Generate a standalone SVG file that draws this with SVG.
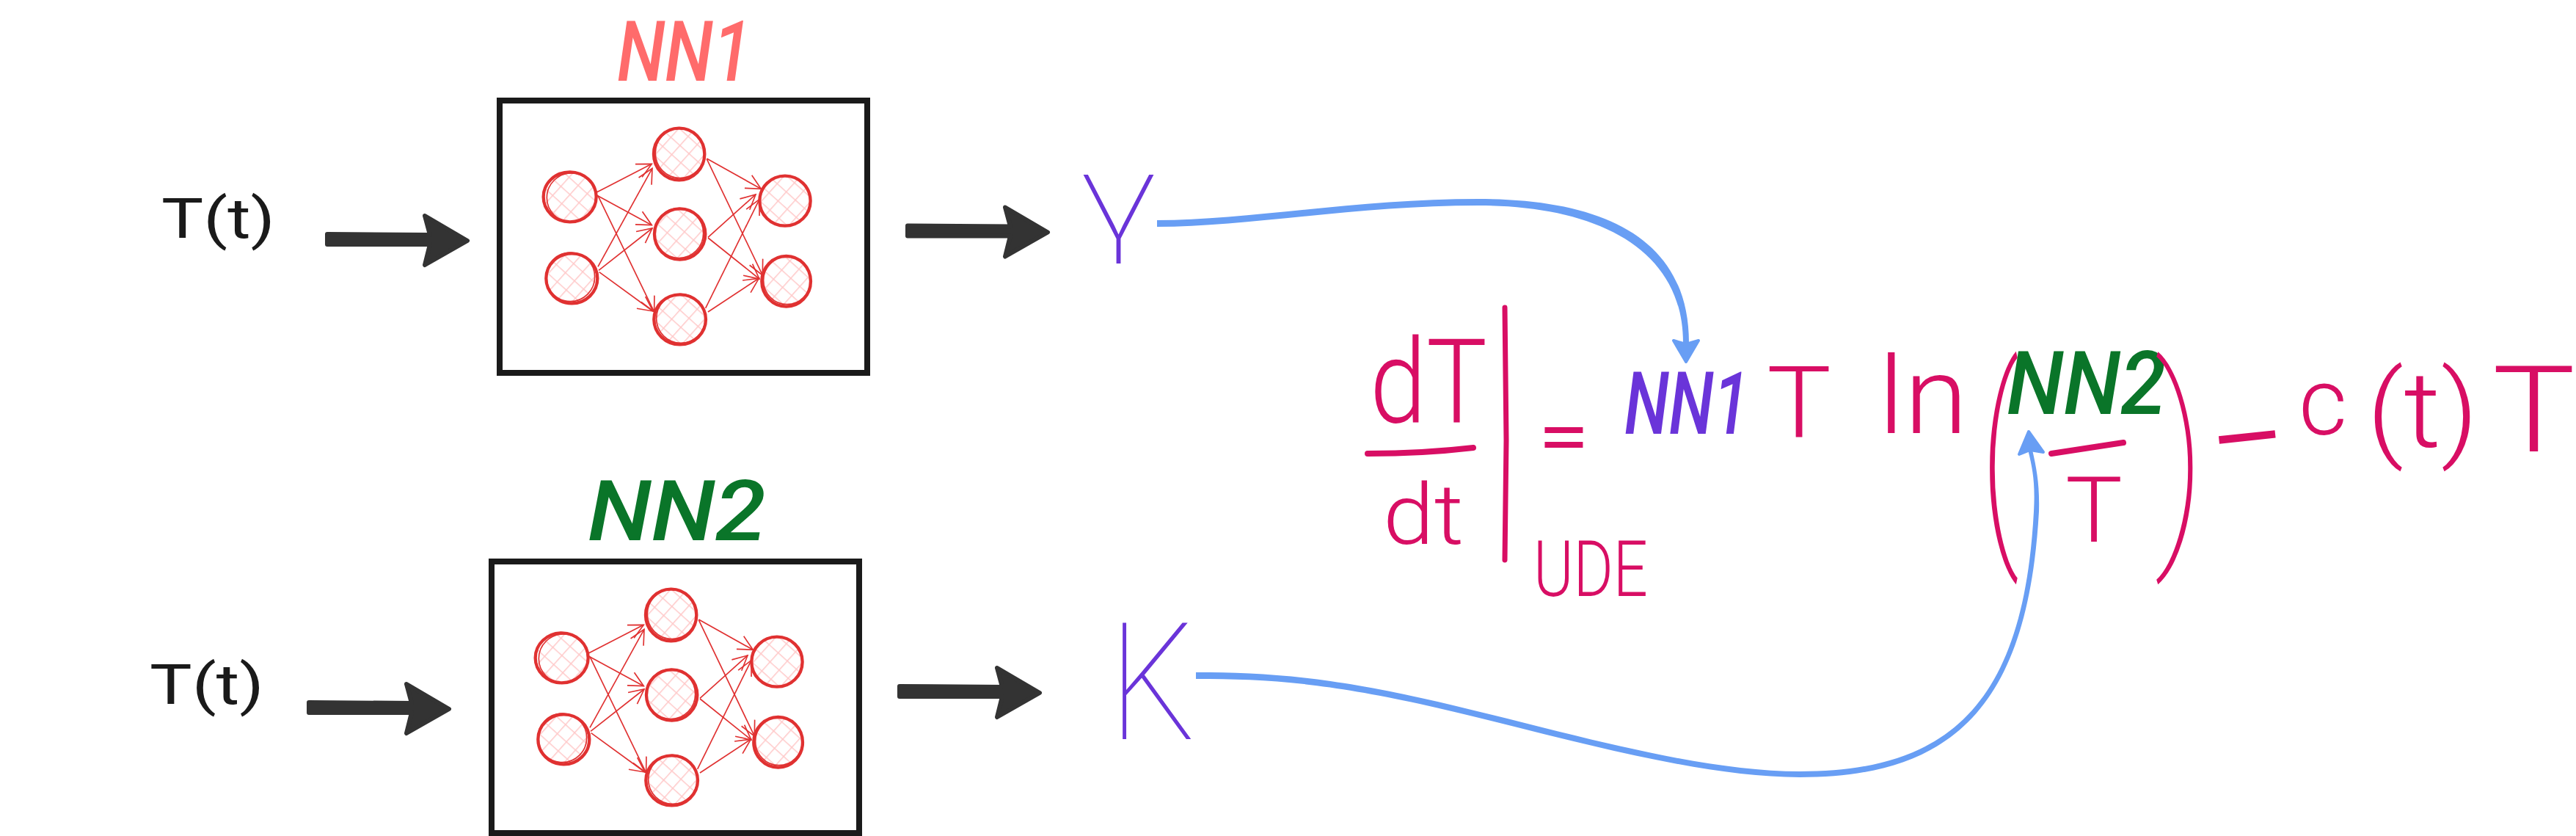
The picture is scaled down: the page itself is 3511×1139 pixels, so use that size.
<svg xmlns="http://www.w3.org/2000/svg" width="3511" height="1139" viewBox="0 0 3511 1139">
<style>
text{font-family:"Roboto","Liberation Sans",sans-serif;font-weight:300}
.ink{fill:#1a1a1a;font-size:76px;font-weight:400}
.pink{fill:#d80e64}
.purple{fill:#6a34d9}
.title{font-weight:500;font-style:italic;font-size:115px}
.green{fill:#0a7529}
.coral{fill:#ff6b6b}
.box{fill:#fff;stroke:#1a1a1a;stroke-width:8}
.stroke{fill:none;stroke:#d80e64;stroke-linecap:round}
.blue{fill:#689ef4;stroke:#689ef4;stroke-linejoin:round}
.cell{fill:url(#hatch);stroke:#e03131;stroke-width:13}
.sk{fill:none;stroke:#e03131;stroke-width:5}
.edge{fill:none;stroke:#e03131;stroke-width:5;marker-end:url(#open)}
.thick{fill:#333;stroke:#333;stroke-width:6;stroke-linejoin:round}
</style>
<defs>
<pattern id="hatch" width="50" height="50" patternUnits="userSpaceOnUse" patternTransform="rotate(42)">
<path d="M0 0H50M0 0V50" stroke="#ffc9c9" stroke-width="9" fill="none"/>
</pattern>
<marker id="open" markerUnits="userSpaceOnUse" markerWidth="80" markerHeight="80" refX="70" refY="40" viewBox="0 0 80 80" orient="auto">
<path d="M10 10L70 40L10 70" fill="none" stroke="#e03131" stroke-width="5"/>
</marker>
<g id="net" transform="translate(700 150) scale(.3333)">
<ellipse class="cell" cx="230" cy="355" rx="108" ry="102"/>
<ellipse class="sk" cx="236" cy="358" rx="100" ry="100"/>
<ellipse class="cell" cx="238" cy="688" rx="105" ry="102"/>
<ellipse class="sk" cx="232" cy="682" rx="100" ry="100"/>
<ellipse class="cell" cx="677" cy="180" rx="104" ry="106"/>
<ellipse class="sk" cx="680" cy="176" rx="100" ry="102"/>
<ellipse class="cell" cx="680" cy="507" rx="104" ry="104"/>
<ellipse class="sk" cx="676" cy="503" rx="100" ry="102"/>
<ellipse class="cell" cx="680" cy="856" rx="106" ry="102"/>
<ellipse class="sk" cx="684" cy="852" rx="100" ry="100"/>
<ellipse class="cell" cx="1110" cy="371" rx="104" ry="102"/>
<ellipse class="cell" cx="1115" cy="700" rx="100" ry="103"/>
<ellipse class="sk" cx="1118" cy="696" rx="96" ry="98"/>
<path class="edge" d="M338 337L565 220"/>
<path class="edge" d="M340 348L565 470"/>
<path class="edge" d="M345 350L575 825"/>
<path class="edge" d="M345 640L567 238"/>
<path class="edge" d="M348 655L567 483"/>
<path class="edge" d="M350 662L570 822"/>
<path class="edge" d="M790 198L1012 322"/>
<path class="edge" d="M790 200L1018 675"/>
<path class="edge" d="M795 520L990 345"/>
<path class="edge" d="M795 522L1005 690"/>
<path class="edge" d="M785 810L1005 365"/>
<path class="edge" d="M795 825L1003 688"/>
</g>
<path id="fat" class="thick" d="M446 319L586 320L579 294L637 328L579 361L586 333L446 333Z"/>
</defs>

<g id="connectors">
<use href="#fat"/>
<use href="#fat" transform="translate(791 -11.5)"/>
<use href="#fat" transform="translate(-25 638)"/>
<use href="#fat" transform="translate(780 616)"/>
<path class="blue" stroke-width="0" d="M1577 300C1700 300 1850 271 2015 271C2188 271 2302 326 2302 467L2294 467C2294 336 2172 280 2015 280C1850 280 1700 309 1577 309Z"/>
<path class="blue" stroke-width="4" d="M2298 493L2281 464L2298 469L2315 464Z"/>
<path class="blue" stroke-width="0" d="M1630 916C1720 916 1802 921 1937 951C2101 987 2300 1051 2453 1051C2658 1051 2758 958 2772 697C2774 660 2771 640 2764 613L2770 613C2776 640 2780 660 2779 697C2764 962 2662 1059 2453 1059C2300 1059 2099 995 1935 959C1798 929 1720 925 1630 925Z"/>
<path class="blue" stroke-width="4" d="M2765 588L2752 619L2767 613L2785 616Z"/>
</g>

<g id="nn1">
<text class="title coral" x="841" y="110" textLength="183" lengthAdjust="spacingAndGlyphs">NN1</text>
<rect class="box" x="681" y="137" width="501" height="371"/>
<use href="#net"/>
</g>
<g id="nn2">
<text class="title green" x="801" y="736" textLength="243" lengthAdjust="spacingAndGlyphs">NN2</text>
<rect class="box" x="670" y="765" width="501" height="370"/>
<use href="#net" transform="translate(-11 628)"/>
</g>
<g id="input1"><text class="ink" x="220" y="324" textLength="155" lengthAdjust="spacingAndGlyphs">T(t)</text></g>
<g id="input2"><text class="ink" x="204" y="959" textLength="156" lengthAdjust="spacingAndGlyphs">T(t)</text></g>
<g id="gamma"><text class="purple" x="1472" y="325" font-size="165" style="font-weight:100" textLength="105" lengthAdjust="spacingAndGlyphs">γ</text></g>
<g id="kappa"><text class="purple" x="1512" y="1007" font-size="222" style="font-weight:100" textLength="118" lengthAdjust="spacingAndGlyphs">K</text></g>

<g id="equation">
<text class="pink" x="1867" y="575" font-size="160" textLength="160" lengthAdjust="spacingAndGlyphs">dT</text>
<path class="stroke" stroke-width="8" d="M1864 618Q1940 618 2008 610"/>
<text class="pink" x="1885" y="741" font-size="115" textLength="110" lengthAdjust="spacingAndGlyphs">dt</text>
<path class="stroke" stroke-width="7" d="M2051 419L2053 600L2051 763"/>
<text class="pink" x="2090" y="812" font-size="105" textLength="156" lengthAdjust="spacingAndGlyphs">UDE</text>
<text class="pink" x="2096" y="630" font-size="100" style="font-weight:400" textLength="70" lengthAdjust="spacingAndGlyphs">=</text>
<text class="purple" x="2214" y="591" font-size="118" style="font-weight:500;font-style:italic" textLength="170" lengthAdjust="spacingAndGlyphs">NN1</text>
<text class="pink" x="2408" y="595" font-size="135" textLength="88" lengthAdjust="spacingAndGlyphs">T</text>
<text class="pink" x="2560" y="590" font-size="147" textLength="122" lengthAdjust="spacingAndGlyphs">ln</text>
<text class="pink" transform="translate(2700 725) scale(.55 1)" x="0" y="0" font-size="310" style="font-weight:200">(</text>
<text class="green" x="2735" y="564" font-size="120" style="font-weight:500;font-style:italic" textLength="217" lengthAdjust="spacingAndGlyphs">NN2</text>
<path class="stroke" stroke-width="8" d="M2796 618L2894 603"/>
<text class="pink" x="2815" y="738" font-size="124" textLength="78" lengthAdjust="spacingAndGlyphs">T</text>
<text class="pink" transform="translate(2936 725) scale(.75 1)" x="0" y="0" font-size="310" style="font-weight:100">)</text>
<text class="pink" transform="rotate(-6 3063 598)" x="3009" y="645" font-size="140" style="font-weight:400" textLength="108" lengthAdjust="spacingAndGlyphs">−</text>
<text class="pink" x="3133" y="592" font-size="128" textLength="66" lengthAdjust="spacingAndGlyphs">c</text>
<text class="pink" x="3226" y="609" font-size="145" textLength="152" lengthAdjust="spacingAndGlyphs">(t)</text>
<text class="pink" x="3397" y="615" font-size="163" textLength="113" lengthAdjust="spacingAndGlyphs">T</text>
</g>
</svg>
